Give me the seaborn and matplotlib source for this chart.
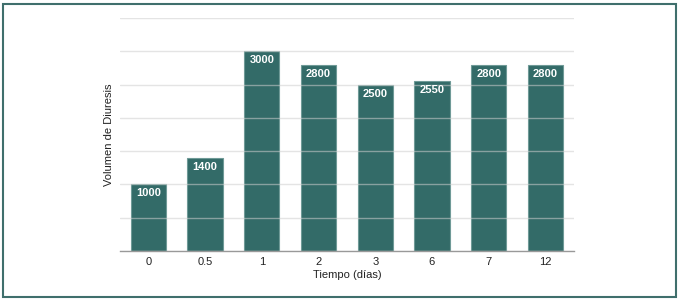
import matplotlib
matplotlib.use("Agg")
import matplotlib.pyplot as plt
import seaborn as sns
import pandas as pd
from matplotlib.patches import Rectangle

# Data
tiempos = ["0", "0.5", "1", "2", "3", "6", "7", "12"]
volumen = [1000, 1400, 3000, 2800, 2500, 2550, 2800, 2800]

df = pd.DataFrame({"tiempo": tiempos, "volumen": volumen})

sns.set_style("white")
plt.rcParams["font.family"] = ["Liberation Sans", "DejaVu Sans"]

fig = plt.figure(figsize=(6.79, 3.0), dpi=100)
ax = fig.add_axes([0.1767, 0.1633, 0.6683, 0.7767])

bar_color = "#336b68"
sns.barplot(data=df, x="tiempo", y="volumen", color=bar_color, width=0.62,
            edgecolor="#6f9a97", linewidth=0.8, saturation=1, ax=ax)

ax.set_ylim(0, 3500)
ax.set_yticks(range(0, 3501, 500))
ax.set_yticklabels([])
ax.tick_params(axis="y", length=0)
ax.tick_params(axis="x", length=0, labelsize=8, pad=4.5, colors="#222222")

# gridlines drawn over the bars, semi transparent
ax.set_axisbelow(False)
ax.yaxis.grid(True, color="#cfcfcf", linewidth=1.0, alpha=0.55)
ax.xaxis.grid(False)
for s in ["top", "right", "left"]:
    ax.spines[s].set_visible(False)
ax.spines["bottom"].set_color("#999999")
ax.spines["bottom"].set_linewidth(1.0)

ax.set_xlabel("Tiempo (días)", fontsize=8, color="#222222", labelpad=2)
ax.set_ylabel("Volumen de Diuresis", fontsize=8, color="#222222", labelpad=1)

for i, v in enumerate(volumen):
    ax.annotate(str(v), (i, v), xytext=(0, -6.5), textcoords="offset points",
                ha="center", va="center", color="white", fontsize=8,
                fontweight="bold")

# border around the figure
fig.patches.append(Rectangle((3 / 679, 3 / 300), 673 / 679, 293 / 300,
                             transform=fig.transFigure, fill=False,
                             edgecolor="#3f6f6c", linewidth=1.5))

fig.savefig("out.png", dpi=100)
